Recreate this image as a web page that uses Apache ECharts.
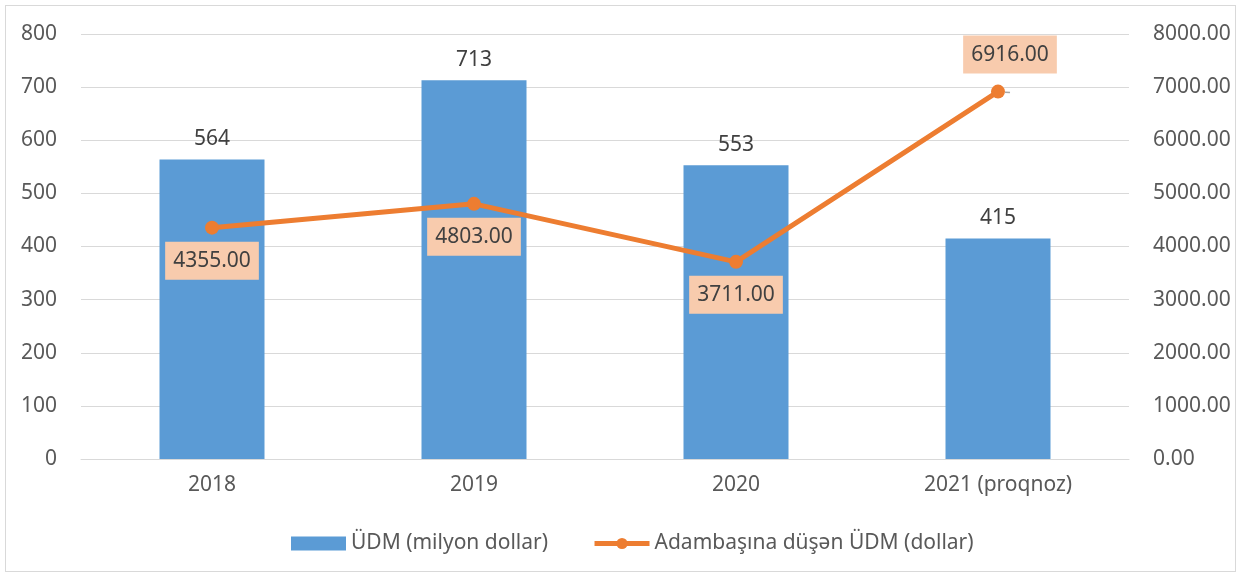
<!DOCTYPE html>
<html>
<head>
<meta charset="utf-8">
<script src="https://cdn.jsdelivr.net/npm/echarts@6/dist/echarts.min.js"></script>
<style>
html, body { margin: 0; padding: 0; background: #fff; }
#frame { position: absolute; left: 5px; top: 5px; width: 1231px; height: 567px; border: 1px solid #d9d9d9; box-sizing: border-box; }
#chart { width: 1241px; height: 577px; position: absolute; left: 0; top: 0; }
</style>
</head>
<body>
<div id="frame"></div>
<div id="chart"></div>
<script>
var categories = ['2018', '2019', '2020', '2021 (proqnoz)'];
var gdpValues = [564, 713, 553, 415];
var perCapitaValues = [4355, 4803, 3711, 6916];
var gdpName = 'ÜDM (milyon dollar)';
var perCapitaName = 'Adambaşına düşən ÜDM (dollar)';

// label placement for each point of the line
var labelOffsets = [[0, 2], [0, 2], [0, 2], [12, -6]];
var labelPositions = ['bottom', 'bottom', 'bottom', 'top'];
var labelLeaders = [false, false, false, true];

var chart = echarts.init(document.getElementById('chart'));
var font = 'Noto Sans';
var fs = 21;

chart.setOption({
    animation: false,
    textStyle: { fontFamily: font },
    legend: {
        top: 528,
        left: 286,
        itemGap: 44,
        itemWidth: 55,
        itemHeight: 14,
        textStyle: { fontSize: fs, color: '#595959', fontFamily: font },
        data: [
            { name: gdpName, icon: 'rect' },
            { name: perCapitaName, lineStyle: { width: 5 } }
        ]
    },
    grid: {
        left: 81,
        right: 112,
        top: 34,
        bottom: 118
    },
    xAxis: {
        type: 'category',
        data: categories,
        axisTick: { show: false },
        axisLine: { lineStyle: { color: '#d9d9d9' } },
        axisLabel: { fontSize: fs, color: '#595959', margin: 16 }
    },
    yAxis: [
        {
            type: 'value',
            min: 0,
            max: 800,
            interval: 100,
            axisLabel: { fontSize: fs, color: '#595959', margin: 24 },
            splitLine: { lineStyle: { color: '#d9d9d9' } }
        },
        {
            type: 'value',
            min: 0,
            max: 8000,
            interval: 1000,
            axisLabel: {
                fontSize: fs, color: '#595959', margin: 24,
                formatter: function (v) { return v.toFixed(2); }
            },
            splitLine: { show: false }
        }
    ],
    series: [
        {
            name: gdpName,
            type: 'bar',
            barWidth: 105,
            itemStyle: { color: '#5b9bd5' },
            label: {
                show: true,
                position: 'top',
                distance: 10,
                fontSize: fs,
                color: '#404040'
            },
            data: gdpValues
        },
        {
            name: perCapitaName,
            type: 'line',
            yAxisIndex: 1,
            symbol: 'circle',
            symbolSize: 14,
            lineStyle: { color: '#ed7d31', width: 5 },
            itemStyle: { color: '#ed7d31' },
            label: {
                show: true,
                fontSize: fs,
                color: '#404040',
                backgroundColor: '#f8cbad',
                padding: [9, 8, 8, 8],
                formatter: function (p) { return p.value.toFixed(2); }
            },
            data: perCapitaValues.map(function (v, i) {
                return {
                    value: v,
                    label: { position: labelPositions[i], offset: labelOffsets[i] },
                    labelLine: {
                        show: labelLeaders[i],
                        lineStyle: { color: '#a6a6a6', width: 1.5 }
                    }
                };
            })
        }
    ]
});
</script>
</body>
</html>
